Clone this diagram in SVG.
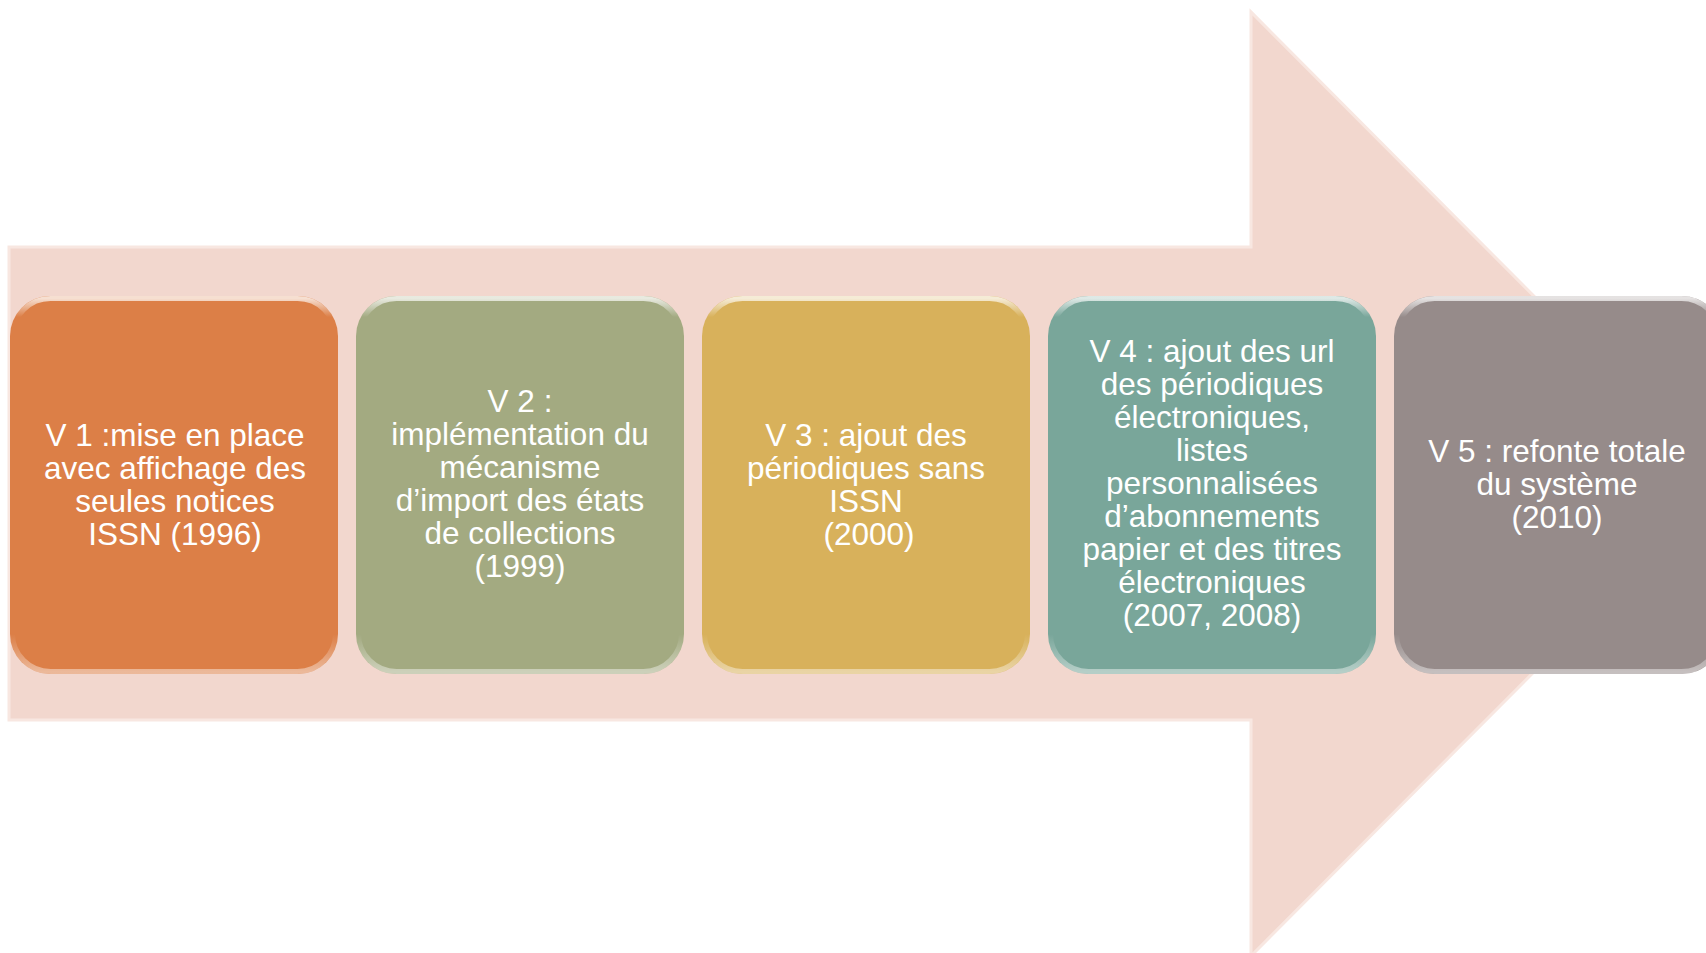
<svg xmlns="http://www.w3.org/2000/svg" width="1706" height="953" viewBox="0 0 1706 953">
<style>
.box{stroke:none}
.bevel{fill:none;stroke:url(#bevel);stroke-width:5}
.lbl{font-family:"Liberation Sans",Arial,sans-serif;font-size:31.5px;fill:#ffffff;text-anchor:middle}
</style>
<defs>
<linearGradient id="bevel" x1="0" y1="0" x2="0" y2="1">
<stop offset="0" stop-color="#ffffff" stop-opacity="0.75"/>
<stop offset="0.05" stop-color="#ffffff" stop-opacity="0"/>
<stop offset="0.9" stop-color="#ffffff" stop-opacity="0"/>
<stop offset="1" stop-color="#ffffff" stop-opacity="0.45"/>
</linearGradient>
</defs>
<rect width="1706" height="953" fill="#ffffff"/>
<g id="arrow">
<polygon points="9,247 1251,247 1251,12 1721,484 1251,956 1251,720 9,720" fill="#F2D7CE" stroke="#F8E7E1" stroke-width="3"/>
</g>
<g id="connectors"></g>
<g id="v1">
<rect class="box" x="10" y="296" width="328" height="378" rx="40" fill="#DC7F47"/>
<rect class="bevel" x="12.5" y="298.5" width="323" height="373" rx="38"/>
<text class="lbl"><tspan x="175" y="446">V 1 :mise en place</tspan><tspan x="175" y="479">avec affichage des</tspan><tspan x="175" y="512">seules notices</tspan><tspan x="175" y="545">ISSN (1996)</tspan></text>
</g>
<g id="v2">
<rect class="box" x="356" y="296" width="328" height="378" rx="40" fill="#A3AA81"/>
<rect class="bevel" x="358.5" y="298.5" width="323" height="373" rx="38"/>
<text class="lbl"><tspan x="520" y="412">V 2 :</tspan><tspan x="520" y="445">implémentation du</tspan><tspan x="520" y="478">mécanisme</tspan><tspan x="520" y="511">d’import des états</tspan><tspan x="520" y="544">de collections</tspan><tspan x="520" y="577">(1999)</tspan></text>
</g>
<g id="v3">
<rect class="box" x="702" y="296" width="328" height="378" rx="40" fill="#D8B15B"/>
<rect class="bevel" x="704.5" y="298.5" width="323" height="373" rx="38"/>
<text class="lbl"><tspan x="866" y="446">V 3 : ajout des</tspan><tspan x="866" y="479">périodiques sans</tspan><tspan x="866" y="512">ISSN</tspan><tspan x="869" y="545">(2000)</tspan></text>
</g>
<g id="v4">
<rect class="box" x="1048" y="296" width="328" height="378" rx="40" fill="#79A69A"/>
<rect class="bevel" x="1050.5" y="298.5" width="323" height="373" rx="38"/>
<text class="lbl"><tspan x="1212" y="362">V 4 : ajout des url</tspan><tspan x="1212" y="395">des périodiques</tspan><tspan x="1212" y="428">électroniques,</tspan><tspan x="1212" y="461">listes</tspan><tspan x="1212" y="494">personnalisées</tspan><tspan x="1212" y="527">d’abonnements</tspan><tspan x="1212" y="560">papier et des titres</tspan><tspan x="1212" y="593">électroniques</tspan><tspan x="1212" y="626">(2007, 2008)</tspan></text>
</g>
<g id="v5">
<rect class="box" x="1394" y="296" width="328" height="378" rx="40" fill="#968B8A"/>
<rect class="bevel" x="1396.5" y="298.5" width="323" height="373" rx="38"/>
<text class="lbl"><tspan x="1557" y="462">V 5 : refonte totale</tspan><tspan x="1557" y="495">du système</tspan><tspan x="1557" y="528">(2010)</tspan></text>
</g>
</svg>
